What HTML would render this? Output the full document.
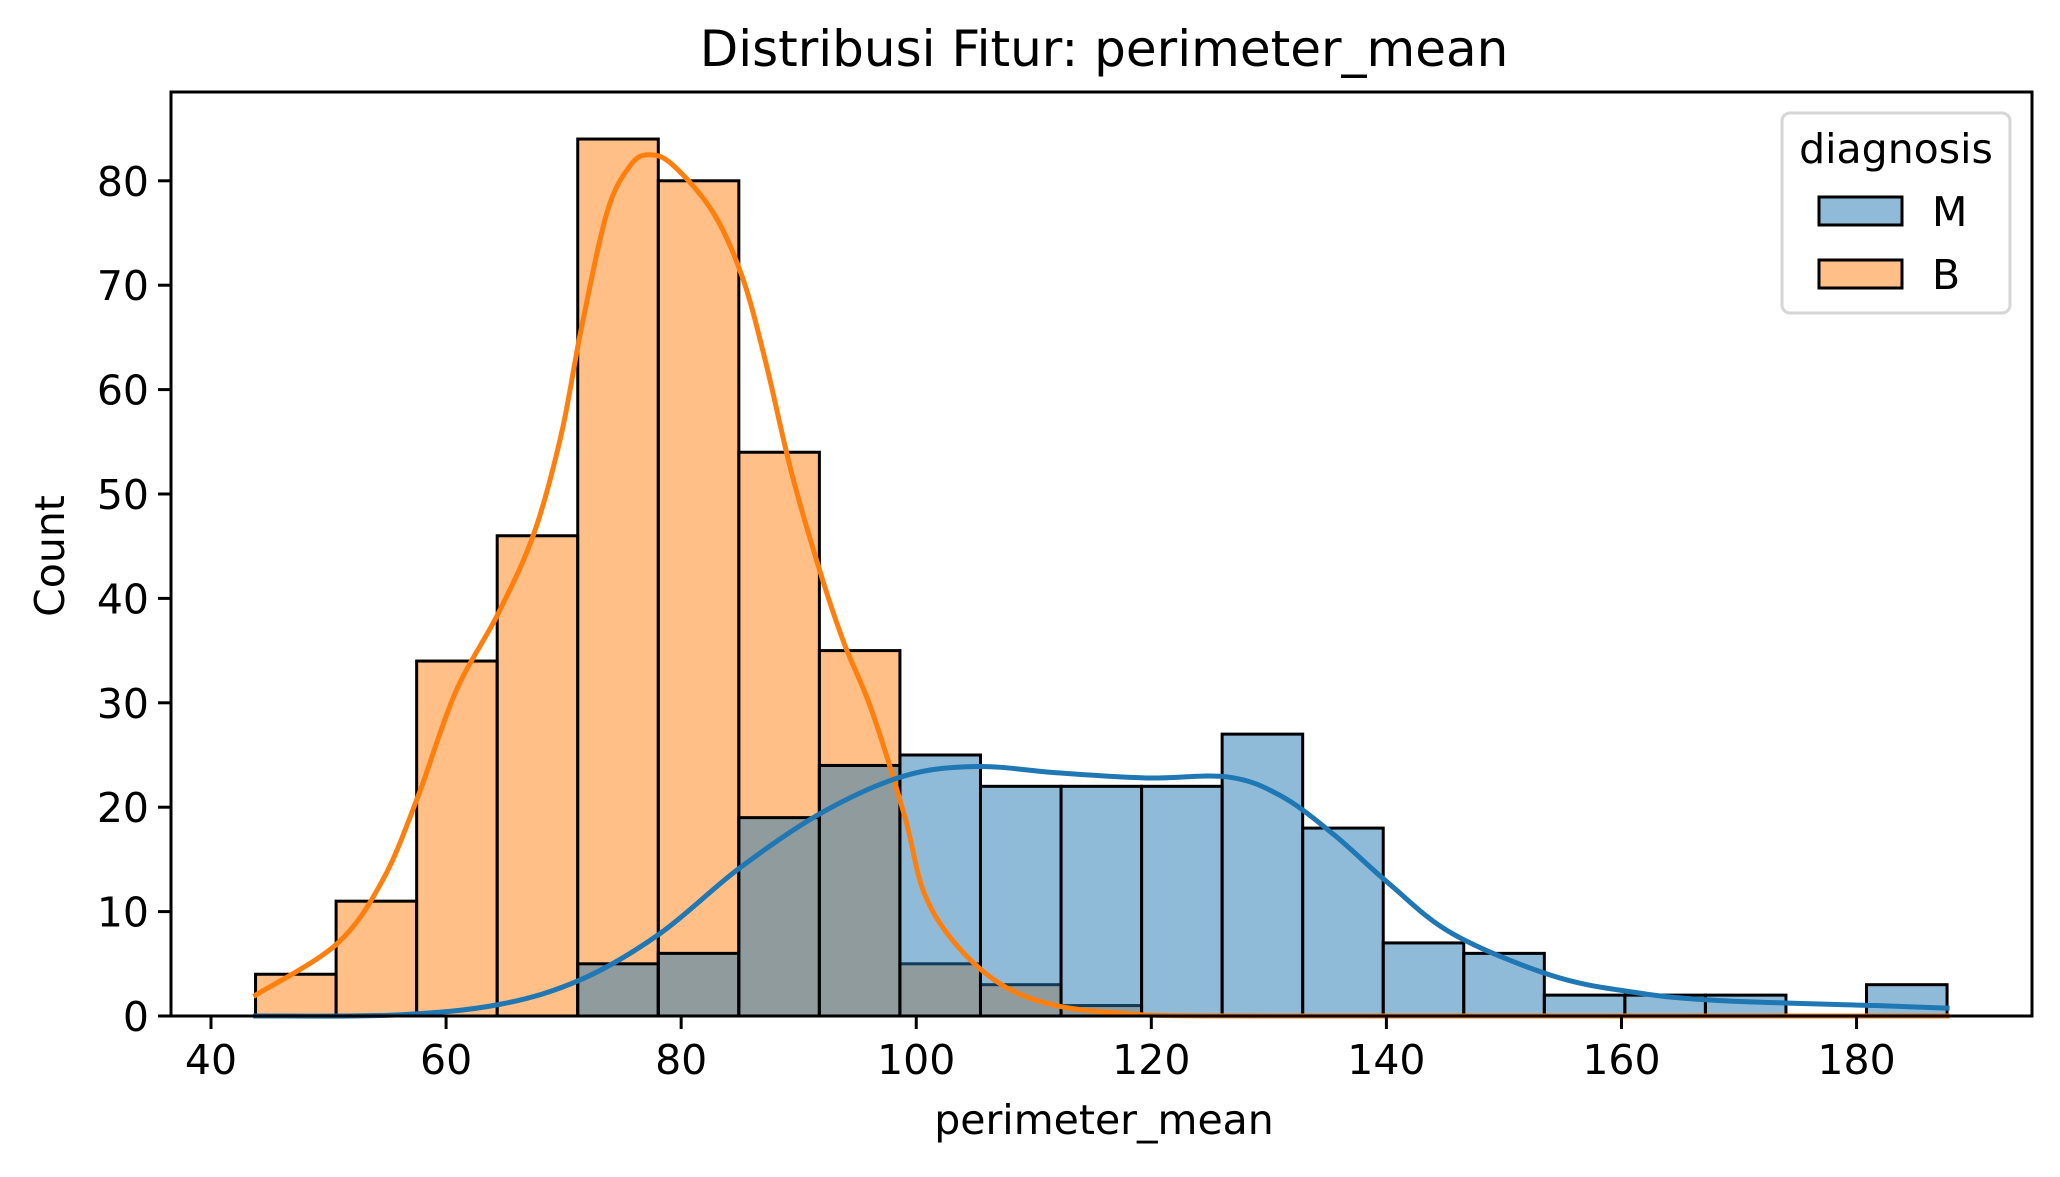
<!DOCTYPE html>
<html><head><meta charset="utf-8">
<style>
html,body{margin:0;padding:0;background:#fff;}
svg{display:block;font-family:"DejaVu Sans","Liberation Sans",sans-serif;}
</style></head>
<body>
<svg id="chart" width="2060" height="1177" viewBox="0 0 2060 1177" xmlns="http://www.w3.org/2000/svg">
<rect x="0" y="0" width="2060" height="1177" fill="#fff"/>
<text x="1104" y="66" font-size="50" text-anchor="middle">Distribusi Fitur: perimeter_mean</text>
<text x="1104" y="1134" font-size="41" text-anchor="middle">perimeter_mean</text>
<text x="0" y="0" font-size="41" text-anchor="middle" transform="translate(64,556) rotate(-90)">Count</text>
<g id="bars"></g>
<g id="kde"></g>
<g id="axes"></g>
<g>
<rect x="1782" y="113" width="228" height="200" rx="8" fill="#fff" fill-opacity="0.8" stroke="#d6d6d6" stroke-width="3"/>
<text x="1896" y="163" font-size="41" text-anchor="middle">diagnosis</text>
<rect x="1819" y="197" width="83" height="28" fill="#8fbbd9" stroke="#000" stroke-width="3"/>
<text x="1932" y="226" font-size="41">M</text>
<rect x="1819" y="260" width="83" height="28" fill="#ffbf86" stroke="#000" stroke-width="3"/>
<text x="1932" y="289" font-size="41">B</text>
</g>
</svg>
<script>
const binStart = 43.79;
const binEnd = 187.7;
const countsB = [4,11,34,46,84,80,54,35,5,3,1,0,0,0,0,0,0,0,0,0,0];
const countsM = [0,0,0,0,5,6,19,24,25,22,22,22,27,18,7,6,2,2,2,0,3];
const xTicks = [40,60,80,100,120,140,160,180];
const yTicks = [0,10,20,30,40,50,60,70,80];
const kdeBx = [43.8,50.7,54.6,57.6,60.8,64.5,67.5,69.8,71.5,73.7,75.7,77.3,79.3,82.7,85.2,87.2,89.4,92,93.9,96.2,99,100.7,103.5,107.4,111.9,117.5,123,140,187.7];
const kdeBy = [2.0,6.9,13,21,31,38.7,46.3,55.7,65.8,77,81.5,82.5,81.5,77,70.8,62.6,52,41.9,35.6,29.3,19.2,11.7,6.7,2.9,1,0.25,0.02,0,0];
const kdeMx = [43.8,55.7,64.5,71.5,78.2,85,92,99,105.2,111.9,119.6,126.5,131,135.5,140.2,145.6,154,160.9,168,181.6,187.7];
const kdeMy = [0,0.1,1.1,3.5,7.9,14.2,19.5,23,23.9,23.3,22.8,22.9,21.1,17.4,12.7,7.9,3.9,2.3,1.5,1.0,0.75];

const NS="http://www.w3.org/2000/svg";
const L=171,R=2032,T=92,B=1016;
const X=v=>211+(v-40)*11.754;
const Y=v=>B-v*10.44;
function mk(tag,attrs,parent){const e=document.createElementNS(NS,tag);for(const k in attrs)e.setAttribute(k,attrs[k]);parent.appendChild(e);return e;}
const bars=document.getElementById('bars');
const w=(binEnd-binStart)/countsB.length;
countsB.forEach((c,i)=>{if(!c)return;const x0=X(binStart+i*w),x1=X(binStart+(i+1)*w);
 const r=mk('rect',{x:x0,y:Y(c),width:x1-x0,height:B-Y(c),fill:'#ff7f0e','fill-opacity':0.5,stroke:'#000','stroke-width':3},bars);
 
 });
countsM.forEach((c,i)=>{if(!c)return;const x0=X(binStart+i*w),x1=X(binStart+(i+1)*w);
 const r=mk('rect',{x:x0,y:Y(c),width:x1-x0,height:B-Y(c),fill:'#1f77b4','fill-opacity':0.5,stroke:'#000','stroke-width':3},bars);
 
 });
const kde=document.getElementById('kde');
function curve(xs,ys,col,name){
 const p=xs.map((x,i)=>[X(x),Y(ys[i])]);
 let d='M'+p[0][0]+','+p[0][1];
 for(let i=0;i<p.length-1;i++){const p0=p[i-1]||p[i],p1=p[i],p2=p[i+1],p3=p[i+2]||p2;
  d+=' C'+(p1[0]+(p2[0]-p0[0])/6)+','+(p1[1]+(p2[1]-p0[1])/6)+' '+(p2[0]-(p3[0]-p1[0])/6)+','+(p2[1]-(p3[1]-p1[1])/6)+' '+p2[0]+','+p2[1];}
 const e=mk('path',{d:d,fill:'none',stroke:col,'stroke-width':5,'stroke-linejoin':'round','stroke-linecap':'square'},kde);
 
 
}
curve(kdeBx,kdeBy,'#ff7f0e','kde-b');
curve(kdeMx,kdeMy,'#1f77b4','kde-m');
const ax=document.getElementById('axes');
const fr=mk('rect',{x:L,y:T,width:R-L,height:B-T,fill:'none',stroke:'#000','stroke-width':3},ax);


xTicks.forEach(v=>{const tk=mk('line',{x1:X(v),x2:X(v),y1:B,y2:B+13,stroke:'#000','stroke-width':3},ax);
 
 
 const t=mk('text',{x:X(v),y:B+58,'font-size':41,'text-anchor':'middle'},ax);t.textContent=v;
 
 });
yTicks.forEach(v=>{const tk=mk('line',{x1:L-13,x2:L,y1:Y(v),y2:Y(v),stroke:'#000','stroke-width':3},ax);
 
 
 const t=mk('text',{x:L-22,y:Y(v)+15,'font-size':41,'text-anchor':'end'},ax);t.textContent=v;
 
 });
</script>
</body></html>
